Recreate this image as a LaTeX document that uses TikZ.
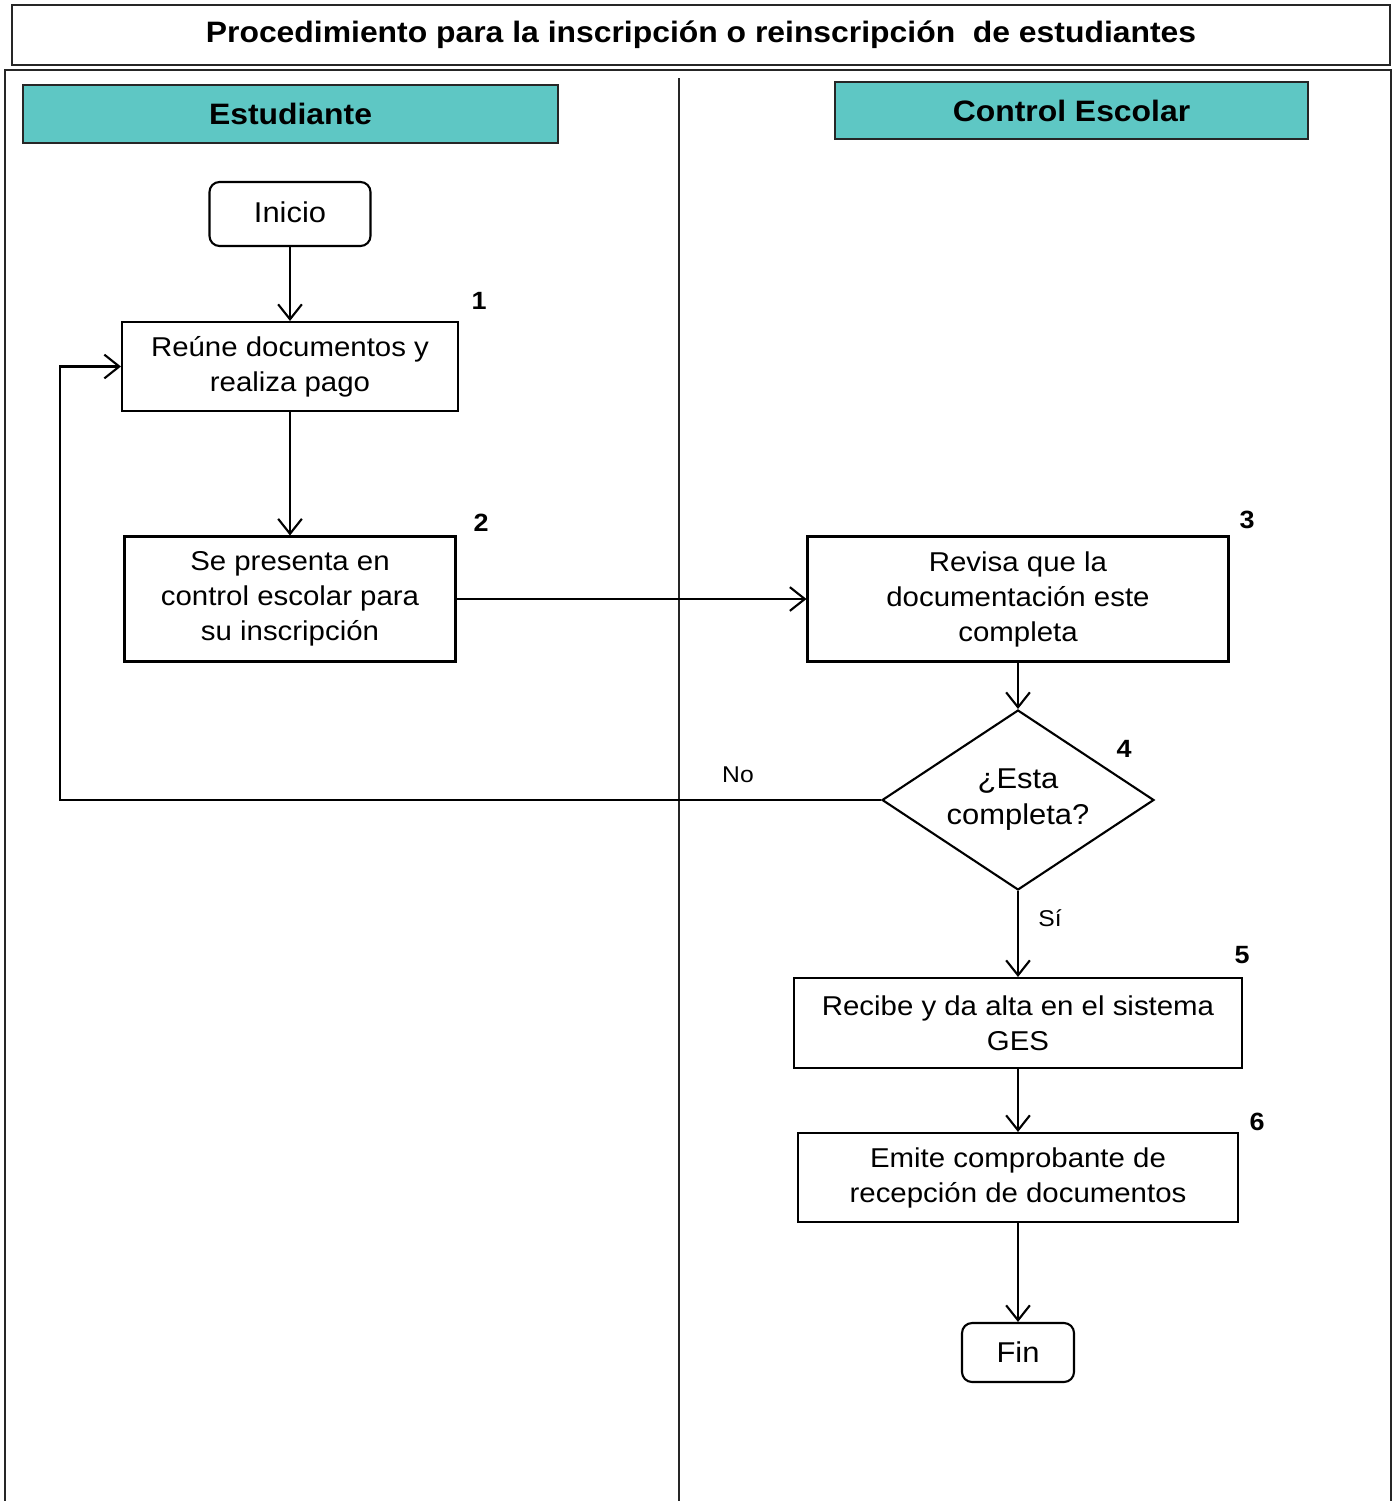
\documentclass[tikz,border=0pt]{standalone}
\usepackage{fontspec}
\setmainfont{Liberation Sans}[FakeStretch=1.08]
\usetikzlibrary{shapes,arrows.meta,positioning}
\definecolor{turquesa}{RGB}{94,199,196}

\begin{document}
\begin{tikzpicture}[
      x=0.02cm, y=-0.02cm,
      line width=1.2pt,
      >={Straight Barb[length=8.5pt,width=13.5pt]},
      pointer/.style={->,draw=black},
      paso/.style={rectangle,draw=black,align=center,inner sep=1mm,
        font=\fontsize{15.5}{19.9}\selectfont},
      terminal/.style={paso,rounded corners=0.2cm,font=\fontsize{16.3}{20}\selectfont},
      decision/.style={diamond,draw=black,aspect=1.5,inner sep=0pt,align=center,
        minimum width=5.44cm,minimum height=3.6cm,font=\fontsize{16.3}{20.5}\selectfont},
      encabezado/.style={rectangle,draw=black!85,line width=0.9pt,fill=turquesa,
        font=\fontsize{16.8}{20}\selectfont\bfseries},
      numero/.style={font=\fontsize{14.2}{16}\selectfont\bfseries},
      rama/.style={font=\fontsize{13}{15}\selectfont}
      ]
      \useasboundingbox (0,0) rectangle (1397,1501);
      % marco y carriles
      \node[rectangle,draw=black!85,minimum width=27.56cm,minimum height=1.2cm,
        font=\fontsize{16.8}{20}\selectfont\bfseries] (titulo) at (701,35)
        {Procedimiento para la inscripción o reinscripción \ de estudiantes};
      \draw[black!85] (5,1501) -- (5,70) -- (1391,70) -- (1391,1501);
      \draw[black!85] (679,78) -- (679,1501);
      \node[encabezado,minimum width=10.7cm,minimum height=1.16cm] (estudiante) at (290.5,114) {Estudiante};
      \node[encabezado,minimum width=9.46cm,minimum height=1.14cm] (control) at (1071.5,110.5) {Control Escolar};

      % pasos
      \node[terminal,minimum width=3.22cm,minimum height=1.28cm] (inicio) at (290,214) {\raisebox{2pt}{Inicio}};
      \node[paso,minimum width=6.72cm,minimum height=1.78cm] (reune) at (290,366.5)
        {Reúne documentos y\\realiza pago};
      \node[paso,minimum width=6.62cm,minimum height=2.5cm] (presenta) at (290,599)
        {Se presenta en\\control escolar para\\su inscripción};
      \node[paso,minimum width=8.42cm,minimum height=2.5cm] (revisa) at (1018,599)
        {Revisa que la\\documentación este\\completa};
      \node[decision] (completa) at (1018,800) {\raisebox{3pt}{¿Esta}\\\raisebox{3pt}{completa?}};
      \node[paso,minimum width=8.96cm,minimum height=1.8cm] (recibe) at (1018,1023)
        {Recibe y da alta en el sistema\\GES};
      \node[paso,minimum width=8.8cm,minimum height=1.78cm] (emite) at (1018,1177.5)
        {Emite comprobante de\\recepción de documentos};
      \node[terminal,minimum width=2.24cm,minimum height=1.18cm] (fin) at (1018,1352.5) {Fin};

      % numeros
      \node[numero] (n1) at (479,301) {1};
      \node[numero] (n2) at (481,523) {2};
      \node[numero] (n3) at (1247,520) {3};
      \node[numero] (n4) at (1124,749) {4};
      \node[numero] (n5) at (1242,955) {5};
      \node[numero] (n6) at (1257,1122) {6};
      \node[rama] (no) at (738,775) {No};
      \node[rama] (si) at (1050,918) {Sí};

      % flechas
      \coordinate (vuelta) at (60,800);
      \path (inicio.south) edge [pointer] (reune.north);
      \path (reune.south) edge [pointer] (presenta.north);
      \path (presenta.east) edge [pointer] (revisa.west);
      \path (revisa.south) edge [pointer] (completa.north);
      \draw[pointer] (completa.west) -- (vuelta) |- (reune.west);
      \path (completa.south) edge [pointer] (recibe.north);
      \path (recibe.south) edge [pointer] (emite.north);
      \path (emite.south) edge [pointer] (fin.north);
    \end{tikzpicture}
\end{document}
